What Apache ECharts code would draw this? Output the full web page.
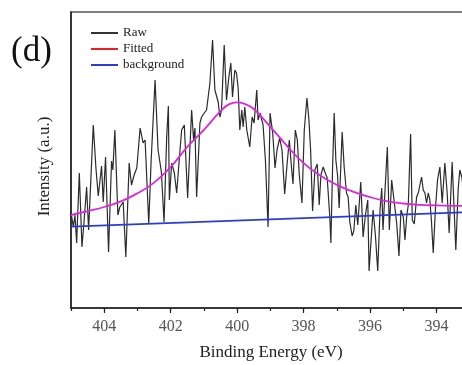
<!DOCTYPE html>
<html>
<head>
<meta charset="utf-8">
<script src="https://cdn.jsdelivr.net/npm/echarts@6/dist/echarts.min.js"></script>
<style>
  html, body { margin: 0; padding: 0; background: #fff; }
  #chart { width: 462px; height: 365px; }
</style>
</head>
<body>
<div id="chart"></div>
<script>
// N 1s region, binding energy in eV (axis runs high -> low)
const rawEnergy = [405.00,404.93,404.88,404.83,404.75,404.67,404.61,404.53,404.47,404.33,
  404.25,404.18,404.13,404.08,404.03,403.96,403.87,403.78,403.74,403.68,
  403.59,403.53,403.43,403.35,403.25,403.18,403.10,403.02,402.92,402.83,
  402.77,402.66,402.59,402.47,402.38,402.28,402.20,402.12,402.07,402.04,
  401.97,401.89,401.82,401.72,401.67,401.59,401.55,401.49,401.45,401.37,
  401.31,401.27,401.22,401.12,401.07,400.99,400.92,400.87,400.82,400.74,
  400.67,400.57,400.52,400.47,400.39,400.32,400.25,400.19,400.14,400.07,
  400.02,399.97,399.92,399.86,399.82,399.77,399.71,399.62,399.55,399.49,
  399.41,399.37,399.31,399.22,399.15,399.07,399.01,398.93,398.86,398.80,
  398.72,398.65,398.57,398.50,398.43,398.37,398.32,398.25,398.19,398.13,
  398.05,397.98,397.90,397.84,397.79,397.73,397.66,397.59,397.53,397.48,
  397.41,397.36,397.29,397.21,397.18,397.13,397.08,397.03,396.98,396.93,
  396.84,396.78,396.71,396.66,396.61,396.54,396.49,396.43,396.37,396.28,
  396.21,396.14,396.07,396.03,395.98,395.91,395.84,395.77,395.70,395.65,
  395.61,395.55,395.48,395.42,395.35,395.27,395.20,395.13,395.07,395.00,
  394.95,394.90,394.85,394.78,394.73,394.67,394.60,394.55,394.45,394.40,
  394.35,394.30,394.25,394.20,394.15,394.10,394.03,393.97,393.90,393.83,
  393.75,393.68,393.62,393.53,393.47,393.42,393.35,393.30,393.24,393.15,
  393.05];
const rawIntensity = [96,81,93,65,135,61,85,121,78,183,
  140,112,111,142,106,151,56,147,138,178,
  93,101,106,51,145,123,133,140,180,165,
  168,84,146,228,158,136,86,171,202,108,
  145,135,115,158,178,183,181,110,111,198,
  168,180,111,185,191,195,198,196,225,268,
  218,206,191,198,263,208,231,245,211,238,
  235,220,178,198,181,201,178,161,191,185,
  218,188,195,183,148,81,195,175,140,158,
  170,158,114,143,168,143,124,178,168,133,
  105,178,210,188,158,97,138,144,103,133,
  141,136,130,90,65,138,195,148,133,100,
  176,141,115,111,86,72,77,103,83,126,
  71,93,108,37,38,98,73,37,98,120,
  78,118,161,78,128,105,85,52,98,91,
  68,91,103,174,88,84,111,115,131,118,
  115,105,115,108,85,55,101,128,141,105,
  145,115,75,146,98,58,118,138,131,108,
  123];

// fitted envelope
const fitEnergy = [405,404.5,404,403.5,403,402.5,402,401.5,401,400.5,400.25,400,399.75,
  399.5,399,398.5,398,397.5,397,396.5,396,395.5,395,394.5,394,393.5,393];
const fitIntensity = [93.0,96.9,101.0,106.6,114.7,125.4,141.0,161.1,178.2,196.8,203.6,205.7,203.7,
  199.0,181.1,162.2,144.9,132.5,123.1,116.2,110.8,106.9,104.5,103.1,102.6,102.2,102.0];

// linear background
const bgEnergy = [405, 393];
const bgIntensity = [81.3, 96.0];

const zip = (xs, ys) => xs.map((x, i) => [x, ys[i]]);

const serif = 'Liberation Serif';
const chart = echarts.init(document.getElementById('chart'), null, { renderer: 'canvas' });

const xBase = {
  type: 'value', min: 392, max: 405, inverse: true,
  position: 'bottom', gridIndex: 0,
  splitLine: { show: false }
};

chart.setOption({
  animation: false,
  backgroundColor: '#fff',
  grid: {
    left: 71, top: 12, width: 432, bottom: 57,
    outerBoundsMode: 'none', containLabel: false,
    show: true, borderColor: '#555', borderWidth: 1.4, backgroundColor: 'transparent'
  },
  legend: {
    orient: 'vertical', left: 86, top: 21,
    icon: 'rect', itemWidth: 27, itemHeight: 2, itemGap: 2,
    textStyle: { fontFamily: serif, fontSize: 13, color: '#222', lineHeight: 14 },
    data: [
      { name: 'Raw', itemStyle: { color: '#333' } },
      { name: 'Fitted', itemStyle: { color: '#ee1c24' } },
      { name: 'background', itemStyle: { color: '#2a3bd6' } }
    ]
  },
  xAxis: [
    Object.assign({}, xBase, {
      interval: 1,
      axisLine: { show: true, lineStyle: { color: '#222', width: 1.6 } },
      axisTick: { show: true, length: 3, lineStyle: { color: '#222', width: 1.2 } },
      axisLabel: { show: false }
    }),
    Object.assign({}, xBase, {
      interval: 2,
      axisLine: { show: false },
      axisTick: { show: true, length: 5, lineStyle: { color: '#222', width: 1.2 } },
      axisLabel: {
        show: true, margin: 11, showMaxLabel: false,
        fontFamily: serif, fontSize: 16, color: '#555'
      }
    })
  ],
  yAxis: {
    type: 'value', min: 0, max: 296,
    axisLine: { show: true, lineStyle: { color: '#222', width: 1.6 } },
    axisTick: { show: false }, axisLabel: { show: false }, splitLine: { show: false }
  },
  series: [
    {
      name: 'Raw', type: 'line', xAxisIndex: 0, data: zip(rawEnergy, rawIntensity),
      symbol: 'none', lineStyle: { color: '#2b2b2b', width: 1.2 }, itemStyle: { color: '#333' }, z: 2
    },
    {
      name: 'background', type: 'line', xAxisIndex: 0, data: zip(bgEnergy, bgIntensity),
      symbol: 'none', lineStyle: { color: '#2a3bd6', width: 1.8 }, itemStyle: { color: '#2a3bd6' }, z: 3
    },
    {
      name: 'Fitted', type: 'line', xAxisIndex: 0, data: zip(fitEnergy, fitIntensity),
      symbol: 'none', smooth: true, lineStyle: { color: '#dc28dc', width: 1.8 }, itemStyle: { color: '#dc28dc' }, z: 4
    }
  ],
  graphic: [
    {
      type: 'text', x: 31.5, y: 52,
      style: { text: '(d)', font: '35px "Liberation Serif"', fill: '#111', textAlign: 'center', textVerticalAlign: 'middle' }
    },
    {
      type: 'text', x: 271, y: 352.5,
      style: { text: 'Binding Energy (eV)', font: '17px "Liberation Serif"', fill: '#222', textAlign: 'center', textVerticalAlign: 'middle' }
    },
    {
      type: 'text', x: 45, y: 166.5, rotation: Math.PI / 2,
      style: { text: 'Intensity (a.u.)', font: '17px "Liberation Serif"', fill: '#222', textAlign: 'center', textVerticalAlign: 'middle' }
    }
  ]
});
</script>
</body>
</html>
